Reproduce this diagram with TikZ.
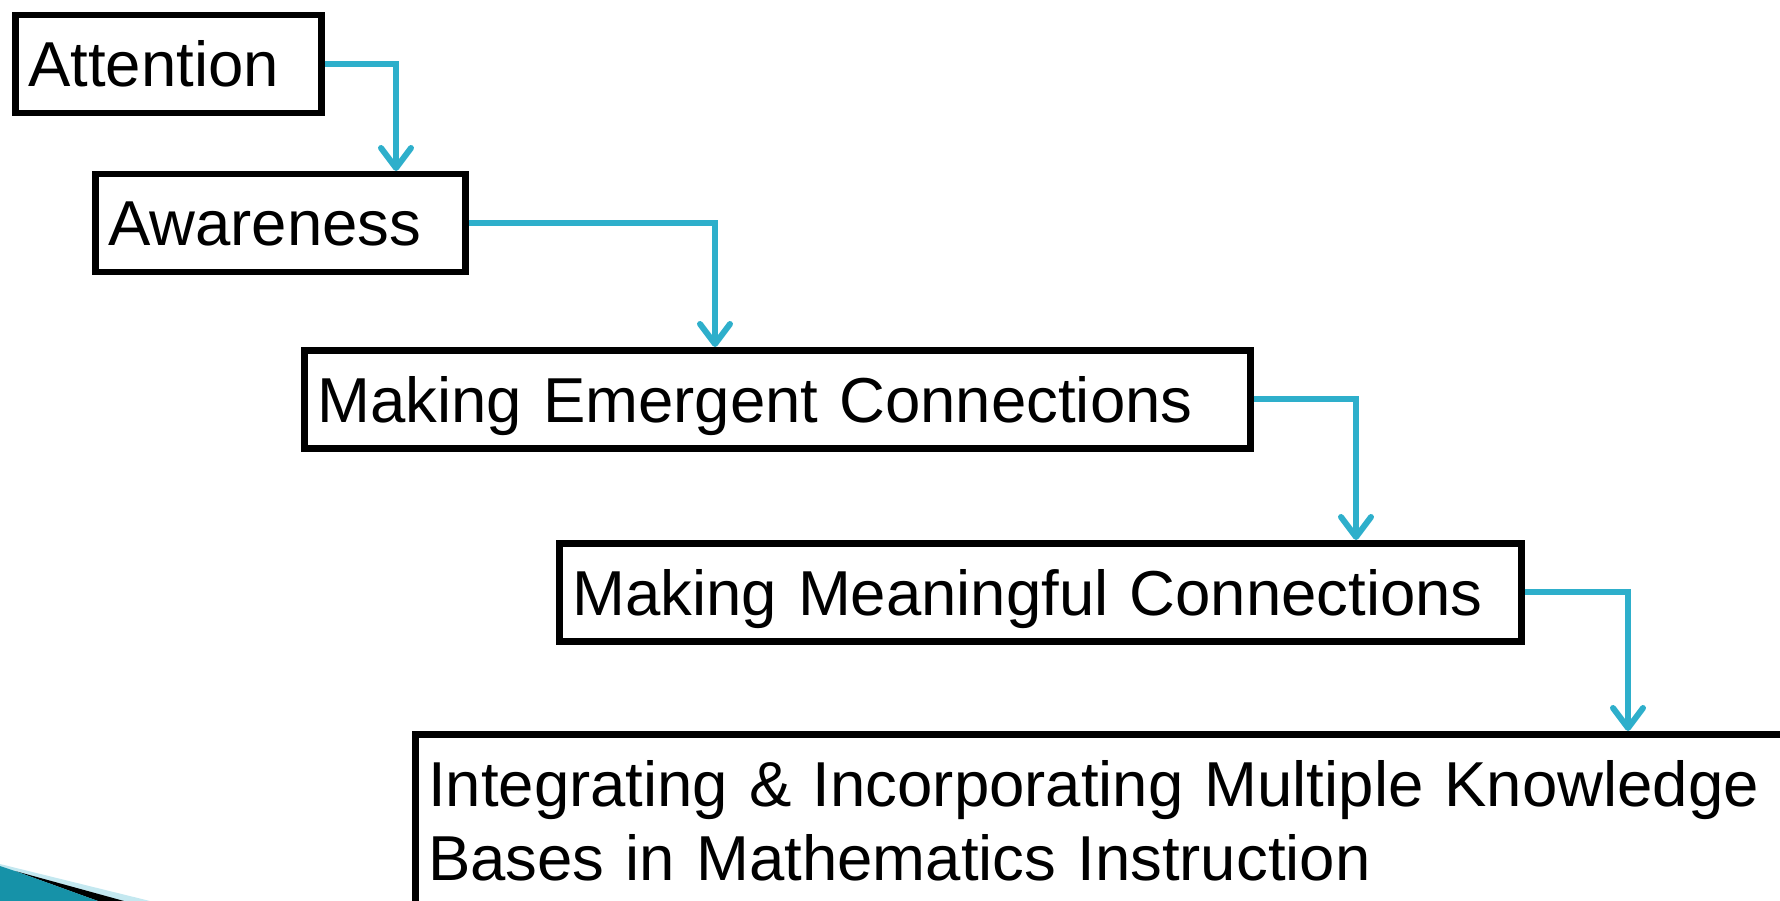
\documentclass[tikz,border=0pt]{standalone}
\usepackage{fontspec}
\setmainfont{Liberation Sans}
\usetikzlibrary{arrows.meta}
\definecolor{conncol}{RGB}{46,175,203}
\definecolor{swteal}{RGB}{22,146,168}
\definecolor{swlight}{RGB}{196,232,240}
\begin{document}
\begin{tikzpicture}[x=1pt,y=-1pt,
  stagebox/.style={draw=black, line width=6.5pt, rectangle, anchor=north west,
    inner xsep=13pt, inner ysep=0pt, align=left,
    font=\fontsize{63.5}{74}\selectfont, text height=45.5pt, text depth=0pt},
  conn/.style={draw=conncol, line width=6pt,
    -{Straight Barb[length=20pt,width=30pt,round]}}]
\useasboundingbox (0,0) rectangle (1780,901);
\clip (0,0) rectangle (1780,901);
% decorative swoosh bottom-left
\fill[swlight] (0,864) -- (150,901) -- (0,901) -- cycle;
\fill[black] (15,871) -- (124,901) -- (98,901) -- cycle;
\fill[swteal] (0,866) -- (15,871) -- (98,901) -- (0,901) -- cycle;
% boxes
\node[stagebox, minimum width=306pt, minimum height=98pt, text width=280pt] (b1) at (12,12) {Attention};
\node[stagebox, minimum width=370pt, minimum height=98pt, text width=344pt] (b2) at (92,171) {Awareness};
\node[stagebox, minimum width=946pt, minimum height=98pt, text width=920pt] (b3) at (301,347) {Making Emergent Connections};
\node[stagebox, minimum width=962pt, minimum height=98pt, text width=936pt] (b4) at (556,540) {Making Meaningful Connections};
\node[stagebox, inner ysep=26.5pt, text depth=87pt, text width=1400pt] (b5) at (412,731)
  {Integrating \& Incorporating Multiple Knowledge\\Bases in Mathematics Instruction};
% bend positions
\coordinate (k1) at (396,0);
\coordinate (k2) at (715,0);
\coordinate (k3) at (1356,0);
\coordinate (k4) at (1628,0);
% connectors
\draw[conn] (b1.east) -| (k1 |- b2.north);
\draw[conn] (b2.east) -| (k2 |- b3.north);
\draw[conn] (b3.east) -| (k3 |- b4.north);
\draw[conn] (b4.east) -| (k4 |- b5.north);
\end{tikzpicture}
\end{document}
